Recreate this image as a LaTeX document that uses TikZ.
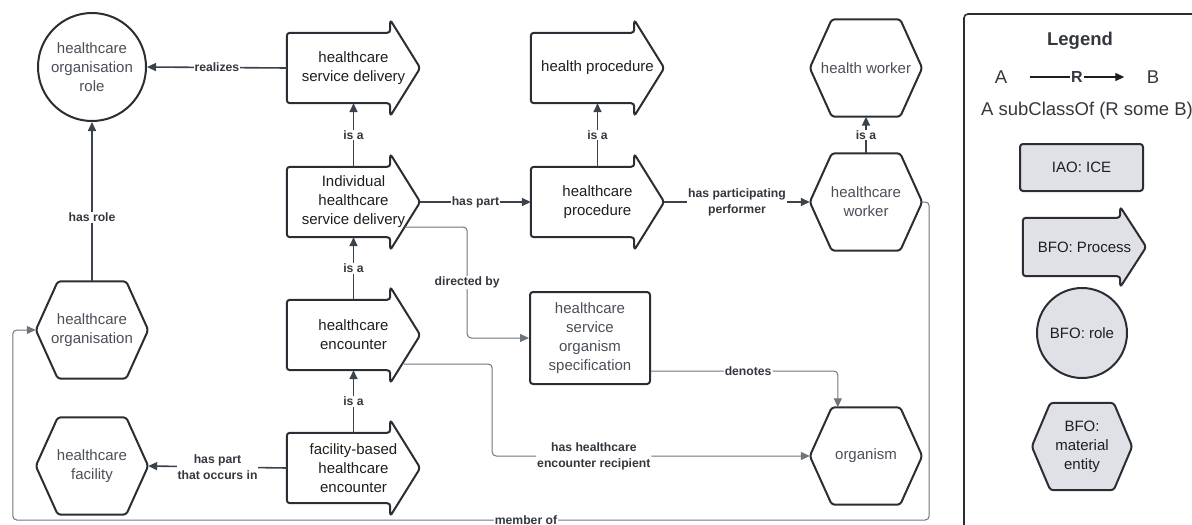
\documentclass[tikz,border=0pt]{standalone}
\usepackage{fontspec}
\setmainfont{Liberation Sans}
\usetikzlibrary{arrows.meta,calc,backgrounds}

\definecolor{edgeline}{HTML}{3B424C}
\definecolor{thinline}{HTML}{6E747C}
\definecolor{shapeline}{HTML}{2A2D33}
\definecolor{proctext}{HTML}{1E1E1E}
\definecolor{enttext}{HTML}{4A4F57}
\definecolor{lbltext}{HTML}{34383E}
\definecolor{legendfill}{HTML}{DFE1E6}

\newcommand{\nodefont}{\fontsize{15}{19}\selectfont}
\newcommand{\lblfont}{\fontsize{12.2}{16}\selectfont\bfseries}
\newcommand{\bigfont}{\fontsize{18.5}{22}\selectfont}

% arrow shaped outline round a process node: [opts] name, head length, head extend
\newcommand{\procoutline}[4][]{%
  \begin{pgfonlayer}{background}
  \draw[outline,#1] (#2.north west) -- ($(#2.north east)+(-#3,0)$) -- ++(0,-#4) -- (#2.east)
    -- ($(#2.south east)+(-#3,#4)$) -- ++(0,-#4) -- (#2.south west) -- cycle;
  \end{pgfonlayer}}

% hexagon outline round an entity node: [opts] name, corner cut
\newcommand{\hexoutline}[3][]{%
  \begin{pgfonlayer}{background}
  \draw[outline,#1] (#2.west) -- ($(#2.north west)+(#3,0)$) -- ($(#2.north east)+(-#3,0)$) -- (#2.east)
    -- ($(#2.south east)+(-#3,0)$) -- ($(#2.south west)+(#3,0)$) -- cycle;
  \end{pgfonlayer}}

\begin{document}
\begin{tikzpicture}[x=1pt,y=-1pt,
    outline/.style={draw=shapeline,line width=2pt,rounded corners=3pt,line join=round},
    proc/.style={minimum width=133pt,minimum height=70pt,inner sep=0pt,align=center,text=proctext,font=\nodefont},
    ent/.style={minimum width=112pt,minimum height=97pt,inner sep=0pt,align=center,text=enttext,font=\nodefont},
    role/.style={circle,draw=shapeline,line width=2pt,minimum size=108pt,inner sep=0pt,align=center,text=enttext,font=\nodefont},
    spec/.style={rectangle,rounded corners=3pt,draw=shapeline,line width=2pt,minimum width=120pt,minimum height=92pt,inner sep=0pt,align=center,text=enttext,font=\nodefont},
    rel/.style={draw=edgeline,line width=1.6pt,-{Triangle[length=9pt,width=8pt]}},
    threl/.style={draw=thinline,line width=1pt,rounded corners=4pt,-{Triangle[length=9pt,width=8pt]}},
    lbl/.style={fill=white,inner sep=1pt,font=\lblfont,text=lbltext,align=center}]

    \useasboundingbox (0,0) rectangle (1192,525);
    \clip (0,0) rectangle (1192,525);

    %roles and processes
    \node[role] (role) at (92,67) {healthcare\\organisation\\role};
    \node[proc] (sd)   at (353.5,68)  {healthcare\\service delivery};
    \node[proc] (isd)  at (353.5,202) {Individual\\healthcare\\service delivery};
    \node[proc] (enc)  at (353.5,335) {healthcare\\encounter};
    \node[proc] (fenc) at (353.5,468) {facility-based\\healthcare\\encounter};
    \node[proc] (hp)   at (597.5,68)  {health procedure};
    \node[proc] (hcp)  at (597.5,202) {healthcare\\procedure};
    \procoutline{sd}{30}{13}
    \procoutline{isd}{30}{13}
    \procoutline{enc}{30}{13}
    \procoutline{fenc}{30}{13}
    \procoutline{hp}{30}{13}
    \procoutline{hcp}{30}{13}

    %specification
    \node[spec] (spec) at (590,338) {healthcare\\service\\organism\\specification};

    %material entities
    \node[ent] (hw)   at (866,68)  {health worker};
    \node[ent] (hcw)  at (866,202) {healthcare\\worker};
    \node[ent] (org)  at (866,456) {organism};
    \node[ent] (horg) at (92,330)  {healthcare\\organisation};
    \node[ent] (hfac) at (92,466)  {healthcare\\facility};
    \hexoutline{hw}{22}
    \hexoutline{hcw}{22}
    \hexoutline{org}{22}
    \hexoutline{horg}{22}
    \hexoutline{hfac}{22}

    %relations
    \draw[rel] (sd.west) -- node[lbl] {realizes} (role.east);
    \draw[rel] (isd.north) -- node[lbl] {is a} (sd.south);
    \draw[rel] (enc.north) -- node[lbl] {is a} (isd.south);
    \draw[rel] (fenc.north) -- node[lbl] {is a} (enc.south);
    \draw[rel] (horg.north) -- node[lbl,pos=0.4] {has role} (role.south);
    \draw[rel] (isd.east) -- node[lbl] {has part} (hcp.west);
    \draw[rel] (hcp.north) -- node[lbl] {is a} (hp.south);
    \draw[rel] (hcp.east) -- node[lbl] {has participating\\performer} (hcw.west);
    \draw[rel] (hcw.north) -- node[lbl] {is a} (hw.south);
    \draw[rel] (fenc.west) -- node[lbl] {has part\\that occurs in} (hfac.east);

    \draw[threl] ($(isd.east)+(-15,25)$) -- ++(62,0) |- node[lbl,pos=0.25] {directed by} (spec.west);
    \draw[threl] ($(enc.east)+(-16,29)$) -- ++(88,0) |- node[lbl,pos=0.66] {has healthcare\\encounter recipient} (org.west);
    \draw[threl] ($(spec.south east)+(0,-14)$) -| node[lbl,pos=0.26] {denotes} ($(org.north west)+(28,0)$);
    \draw[threl] (hcw.east) -- ++(7,0) |- node[lbl,pos=0.72] {member of} ($(horg.west)+(-23,190)$) |- (horg.west);

    %legend
    \draw[draw=shapeline,line width=1.6pt,rounded corners=4pt] (1200,14) -- (964,14) -- (964,535);
    \node[font=\bigfont\bfseries,text=lbltext] (legtitle) at (1080,41) {Legend};
    \node[font=\bigfont,text=lbltext] (legA) at (1001,77) {A};
    \node[font=\bigfont,text=lbltext] (legB) at (1153,77) {B};
    \draw[rel,draw=proctext,line width=1.3pt,shorten <=19pt,shorten >=19pt] (legA) -- node[lbl,font=\fontsize{16}{18}\selectfont\bfseries] {R} (legB);
    \node[font=\bigfont,text=lbltext] (legaxiom) at (1087,111) {A subClassOf (R some B)};

    \node[spec,fill=legendfill,minimum width=123pt,minimum height=47pt,text=proctext] (legice) at (1081.5,167.5) {IAO: ICE};
    \node[proc,minimum width=123pt,minimum height=58pt] (legproc) at (1084.5,247) {BFO: Process};
    \procoutline[fill=legendfill]{legproc}{26}{11}
    \node[role,fill=legendfill,minimum size=90pt,text=proctext] (legrole) at (1082,333) {BFO: role};
    \node[ent,minimum width=100pt,minimum height=87pt,text=proctext] (legent) at (1082,446.5) {BFO:\\material\\entity};
    \hexoutline[fill=legendfill]{legent}{18.5}

\end{tikzpicture}
\end{document}
